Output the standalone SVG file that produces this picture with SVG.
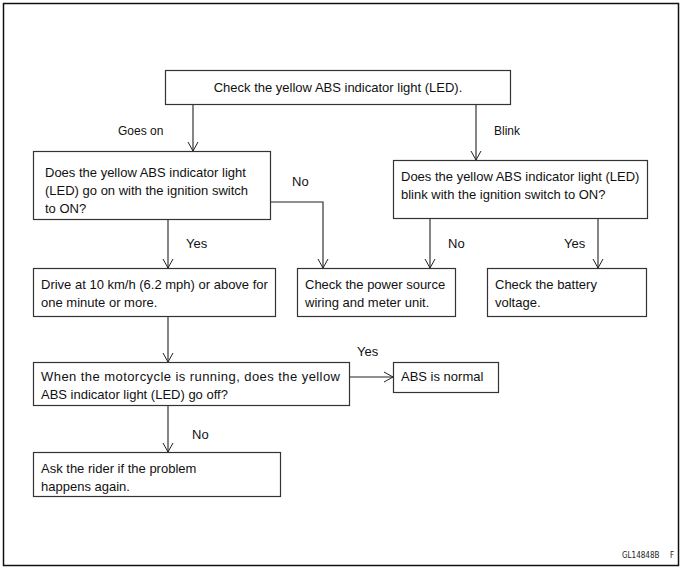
<svg xmlns="http://www.w3.org/2000/svg" width="683" height="569" viewBox="0 0 683 569">
<defs>
<marker id="arr" markerWidth="12" markerHeight="12" refX="10" refY="6" orient="auto" markerUnits="userSpaceOnUse">
<path d="M1,1 L10,6 L1,11" fill="none" stroke="#222" stroke-width="1"/>
</marker>
<style>
.box{fill:#fff;stroke:#333;stroke-width:1.2}
.t{font-family:"Liberation Sans",Arial,sans-serif;font-size:13px;fill:#111}
.lbl{font-family:"Liberation Sans",Arial,sans-serif;font-size:12px;fill:#111}
.c{fill:none;stroke:#222;stroke-width:1.1}
.code{font-family:"DejaVu Sans Condensed","Liberation Sans Narrow",sans-serif;font-size:8px;fill:#222}
</style>
</defs>
<rect x="0" y="0" width="683" height="569" fill="#fff"/>
<rect x="3.5" y="3.5" width="675" height="562" fill="none" stroke="#111" stroke-width="1.5"/>
<g id="connectors">
<path class="c" d="M193,104 V151" marker-end="url(#arr)"/>
<path class="c" d="M476,104 V160" marker-end="url(#arr)"/>
<path class="c" d="M270,202 H323 V268" marker-end="url(#arr)"/>
<path class="c" d="M168,220 V268" marker-end="url(#arr)"/>
<path class="c" d="M430,218 V268" marker-end="url(#arr)"/>
<path class="c" d="M598,218 V268" marker-end="url(#arr)"/>
<path class="c" d="M168,316 V362" marker-end="url(#arr)"/>
<path class="c" d="M349,377 H393" marker-end="url(#arr)"/>
<path class="c" d="M168,405 V452" marker-end="url(#arr)"/>
<text class="lbl" x="118" y="135">Goes on</text>
<text class="lbl" x="494" y="135">Blink</text>
<text class="t" x="292" y="186">No</text>
<text class="t" x="186" y="248">Yes</text>
<text class="t" x="448" y="248">No</text>
<text class="t" x="564" y="248">Yes</text>
<text class="t" x="357" y="356">Yes</text>
<text class="t" x="192" y="439">No</text>
</g>
<g id="n1">
<rect class="box" x="165.5" y="70.5" width="345" height="34"/>
<text class="t" x="338" y="92" text-anchor="middle">Check the yellow ABS indicator light (LED).</text>
</g>
<g id="n2">
<rect class="box" x="33.5" y="151.5" width="237" height="68"/>
<text class="t" x="45" y="177">Does the yellow ABS indicator light</text>
<text class="t" x="45" y="195">(LED) go on with the ignition switch</text>
<text class="t" x="45" y="213">to ON?</text>
</g>
<g id="n3">
<rect class="box" x="393.5" y="160.5" width="254" height="58"/>
<text class="t" x="401" y="181">Does the yellow ABS indicator light (LED)</text>
<text class="t" x="401" y="199">blink with the ignition switch to ON?</text>
</g>
<g id="n4">
<rect class="box" x="33.5" y="268.5" width="242" height="48"/>
<text class="t" x="41" y="289">Drive at 10 km/h (6.2 mph) or above for</text>
<text class="t" x="41" y="307">one minute or more.</text>
</g>
<g id="n5">
<rect class="box" x="297.5" y="268.5" width="158" height="48"/>
<text class="t" x="305" y="289">Check the power source</text>
<text class="t" x="305" y="307">wiring and meter unit.</text>
</g>
<g id="n6">
<rect class="box" x="487.5" y="268.5" width="159" height="48"/>
<text class="t" x="495" y="289">Check the battery</text>
<text class="t" x="495" y="307">voltage.</text>
</g>
<g id="n7">
<rect class="box" x="33.5" y="362.5" width="316" height="43"/>
<text class="t" x="41" y="381" textLength="299" lengthAdjust="spacing">When the motorcycle is running, does the yellow</text>
<text class="t" x="41" y="399">ABS indicator light (LED) go off?</text>
</g>
<g id="n8">
<rect class="box" x="393.5" y="362.5" width="105" height="30"/>
<text class="t" x="401" y="381">ABS is normal</text>
</g>
<g id="n9">
<rect class="box" x="33.5" y="452.5" width="247" height="44"/>
<text class="t" x="41" y="473">Ask the rider if the problem</text>
<text class="t" x="41" y="491">happens again.</text>
</g>
<text class="code" x="622" y="558">GL14848B</text>
<text class="code" x="670" y="558">F</text>
</svg>
